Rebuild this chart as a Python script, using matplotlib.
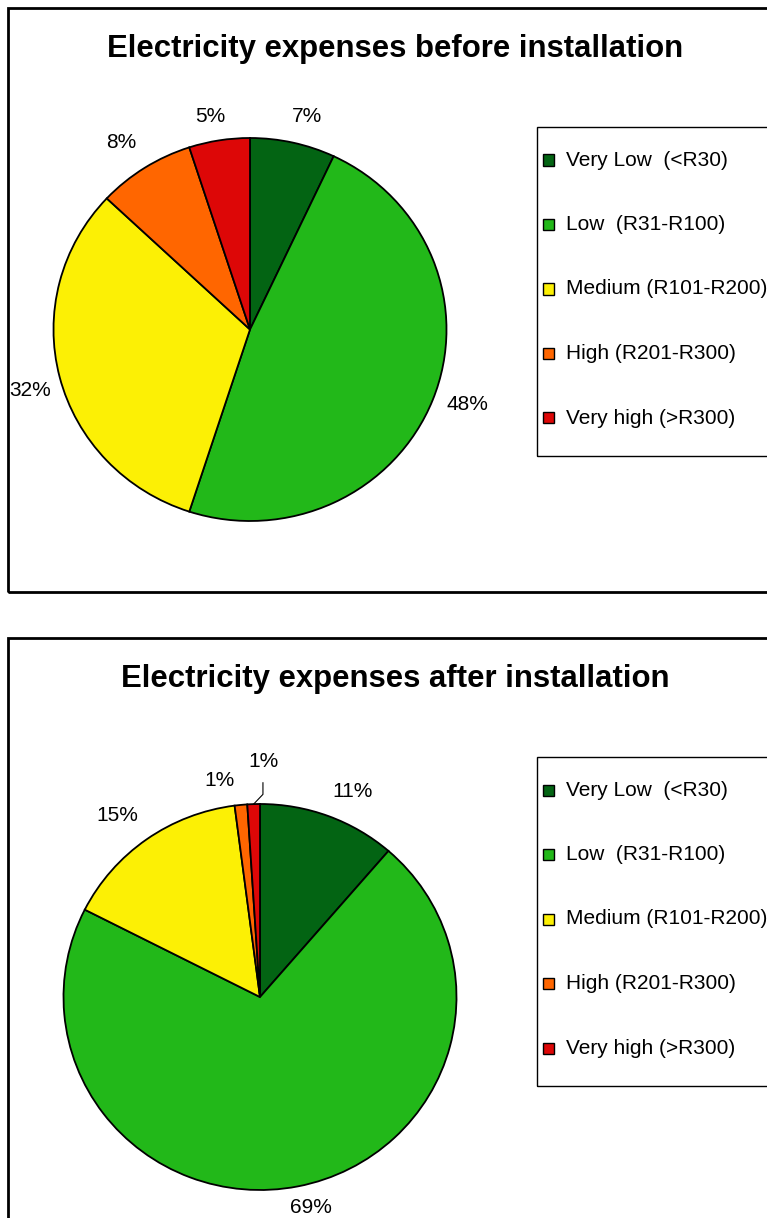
import numpy as np
import matplotlib
matplotlib.use("Agg")
import matplotlib.pyplot as plt
from matplotlib.patches import Rectangle

plt.rcParams['font.family'] = ['Liberation Sans', 'DejaVu Sans']

# categories and survey shares (%)
categories = ['Very Low  (<R30)', 'Low  (R31-R100)', 'Medium (R101-R200)',
              'High (R201-R300)', 'Very high (>R300)']
before = [7, 48, 32, 8, 5]
after = [11, 69, 15, 1, 1]
colors = ['#036413', '#22B819', '#FCF005', '#FF6600', '#DD0707']

W, H = 767, 1218
fig = plt.figure(figsize=(W / 100, H / 100), dpi=100)


def fx(px):
    return px / W


def fy(py):
    return 1 - py / H


def panel(top, bottom, title, values, center, rx, ry, legend_top, label_pos,
          leader=None):
    # outer chart frame (runs off the right edge)
    fig.add_artist(Rectangle((fx(8), fy(bottom)), fx(W + 20) - fx(8),
                             fy(top) - fy(bottom), transform=fig.transFigure,
                             fill=False, edgecolor='black', linewidth=2))
    fig.text(fx(395), fy(top + 41), title, ha='center', va='center',
             fontsize=22.4, fontweight='bold')

    cx, cy = center
    ax = fig.add_axes([fx(cx - rx), fy(cy + ry), 2 * rx / W, 2 * ry / H])
    wedges, _ = ax.pie(values, colors=colors, startangle=90, counterclock=False,
                       radius=1, wedgeprops=dict(edgecolor='black', linewidth=1.3))
    ax.set_xlim(-1, 1)
    ax.set_ylim(-1, 1)
    ax.set_aspect('auto')
    ax.axis('off')

    # percentage labels: (radius, angle shift) around each wedge's middle
    for w, v, (r, dt) in zip(wedges, values, label_pos):
        ang = np.deg2rad((w.theta1 + w.theta2) / 2 + dt)
        ax.text(r * np.cos(ang), r * np.sin(ang), f'{v}%', ha='center',
                va='center', fontsize=15, clip_on=False)
    if leader is not None:
        w = wedges[leader]
        ang = np.deg2rad((w.theta1 + w.theta2) / 2)
        ax.plot([np.cos(ang), 0.015, 0.015], [np.sin(ang), 1.05, 1.11],
                color='black', linewidth=0.8, clip_on=False)

    # legend box
    lx, ltop, lbottom = 537, legend_top, legend_top + 329
    fig.add_artist(Rectangle((fx(lx), fy(lbottom)), fx(W + 20) - fx(lx),
                             fy(ltop) - fy(lbottom), transform=fig.transFigure,
                             fill=False, edgecolor='black', linewidth=1))
    for i, name in enumerate(categories):
        yy = ltop + 33 + i * 64.5
        fig.add_artist(Rectangle((fx(lx + 6), fy(yy + 5.5)), 11 / W, 11 / H,
                                 transform=fig.transFigure, facecolor=colors[i],
                                 edgecolor='black', linewidth=1))
        fig.text(fx(lx + 29), fy(yy), name, ha='left', va='center', fontsize=15)


panel(8, 592, 'Electricity expenses before installation', before,
      (250, 329.5), 196.5, 191.5, 127,
      [(1.147, -2.0), (1.172, 2.0), (1.163, 1.4), (1.175, 1.6), (1.133, 1.4)])
panel(638, H + 20, 'Electricity expenses after installation', after,
      (260, 997), 196.5, 193, 757,
      [(1.163, -3.6), (1.119, 2.3), (1.187, 2.5), (1.143, 4.9), (1.218, -2.6)],
      leader=4)

fig.savefig('out.png', dpi=100)
